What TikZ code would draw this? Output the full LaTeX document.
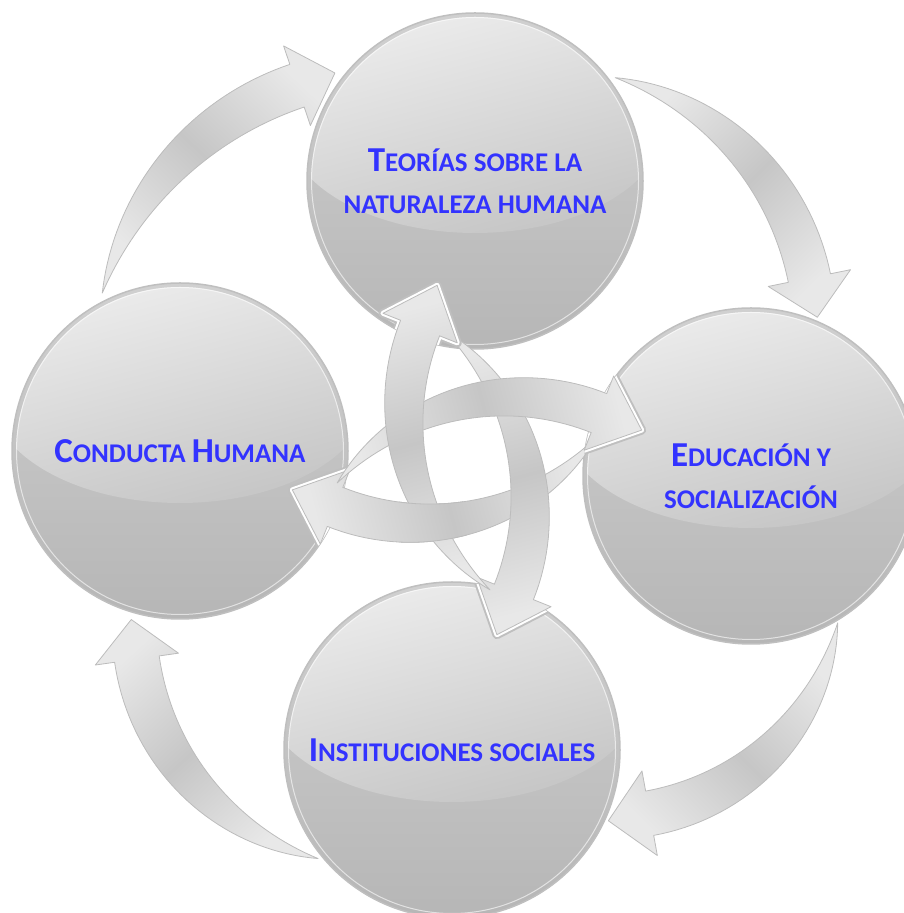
\documentclass[tikz,border=0pt]{standalone}
\usepackage{fontspec}
\setmainfont{Carlito}
\usetikzlibrary{calc}

\definecolor{ballhi}{HTML}{D0D0D0}
\definecolor{balllo}{HTML}{B6B6B6}
\definecolor{glosshi}{HTML}{EDEDED}
\definecolor{glosslo}{HTML}{C5C5C5}
\definecolor{ballrim}{HTML}{BFBFBF}
\definecolor{arrlight}{HTML}{E8E8E8}
\definecolor{arrmid}{HTML}{C6C6C6}
\definecolor{arredge}{HTML}{BCBCBC}
\definecolor{lbl}{HTML}{3333FF}

% fake small caps: big initial, smaller capitals after it
\newcommand{\smc}[2]{{\fontsize{35pt}{42pt}\selectfont #1}{\fontsize{27pt}{42pt}\selectfont #2}}

% tapered bent arrow round a centre: style, centre, tail angle, head angle,
% radius, shaft width, head half width, head length
\newcommand{\arcarrow}[8]{%
  \pgfmathsetmacro{\arrang}{(#3+#4)/2}%
  \path[#1, shading angle=\arrang, shift={#2}]
    plot[variable=\t, domain=#3:#4, samples=40]
      (\t:{#5+#6/2*((#3-\t)/(#3-#4))*(2-(#3-\t)/(#3-#4))})
    -- (#4:{#5+#7})
    -- ({#4-atan(#8/#5)}:{#5/cos(atan(#8/#5))})
    -- (#4:{#5-#7})
    -- plot[variable=\t, domain=#4:#3, samples=40]
      (\t:{#5-#6/2*((#3-\t)/(#3-#4))*(2-(#3-\t)/(#3-#4))})
    -- cycle;}

\tikzset{
  ball/.style={circle, minimum size=336pt, inner sep=0pt, draw=ballrim, line width=1.5pt,
    top color=ballhi, bottom color=balllo, text=lbl, align=center,
    font=\bfseries\fontsize{27pt}{42pt}\selectfont,
    path picture={
      \clip (path picture bounding box.center) circle (164pt);
      \shade[top color=glosshi, bottom color=glosslo, shading angle=15]
        ([yshift=58pt]path picture bounding box.center) ellipse [x radius=190pt, y radius=110pt];
      \draw[white, line width=2pt, opacity=0.6] (path picture bounding box.center) circle (164pt);
    }},
  arrowbody/.style={top color=arrlight, bottom color=arrlight, middle color=arrmid,
    draw=arredge, line width=0.8pt, line join=round},
  notchrim/.style={draw=ballrim, line width=9pt, line join=round},
  notchgap/.style={draw=white, line width=5pt, line join=round},
}

\begin{document}
\begin{tikzpicture}[x=1pt,y=1pt]
  \useasboundingbox (0,0) rectangle (904,913);

  \node[ball] (T) at (475,732) {\smc{T}{EORÍAS SOBRE LA}\\\smc{}{NATURALEZA HUMANA}};
  \node[ball] (L) at (180,462) {\smc{C}{ONDUCTA} \smc{H}{UMANA}};
  \node[ball] (R) at (751,437) {\smc{E}{DUCACIÓN Y}\\\smc{}{SOCIALIZACIÓN}};
  \node[ball] (B) at (452,163) {\smc{I}{NSTITUCIONES SOCIALES}};

  % outer ring
  \coordinate (arcLT) at (393,542);
  \coordinate (arcTR) at (555.6,583.3);
  \coordinate (arcRB) at (608,329);
  \coordinate (arcBL) at (374.5,287.7);
  \arcarrow{arrowbody}{(arcLT)}{165}{108.6}{301}{45}{42}{40}
  \arcarrow{arrowbody}{(arcTR)}{76.7}{11.5}{259}{43}{42}{40}
  \arcarrow{arrowbody}{(arcRB)}{-9.6}{-79.7}{233}{45}{43}{42}
  \arcarrow{arrowbody}{(arcBL)}{-103.6}{-171.9}{240}{45}{42}{40}

  % inner cross
  \coordinate (xUp) at (631,501);
  \coordinate (xRight) at (515,289);
  \coordinate (xDown) at (303,405);
  \coordinate (xLeft) at (419,617);

  \begin{scope}
    \clip (L) circle (168pt);
    \arcarrow{notchrim}{(xLeft)}{-38.4}{-111.7}{227}{42}{40}{46}
    \arcarrow{notchgap}{(xLeft)}{-38.4}{-111.7}{227}{42}{40}{46}
  \end{scope}
  \arcarrow{arrowbody}{(xLeft)}{-38.4}{-111.7}{227}{42}{40}{46}

  \begin{scope}
    \clip (B) circle (168pt);
    \arcarrow{notchrim}{(xDown)}{51.6}{-21.7}{227}{42}{40}{46}
    \arcarrow{notchgap}{(xDown)}{51.6}{-21.7}{227}{42}{40}{46}
  \end{scope}
  \arcarrow{arrowbody}{(xDown)}{51.6}{-21.7}{227}{42}{40}{46}

  \begin{scope}
    \clip (R) circle (168pt);
    \arcarrow{notchrim}{(xRight)}{141.6}{68.3}{227}{42}{40}{46}
    \arcarrow{notchgap}{(xRight)}{141.6}{68.3}{227}{42}{40}{46}
  \end{scope}
  \arcarrow{arrowbody}{(xRight)}{141.6}{68.3}{227}{42}{40}{46}

  \begin{scope}
    \clip (T) circle (168pt);
    \arcarrow{notchrim}{(xUp)}{231.6}{158.3}{227}{42}{40}{46}
    \arcarrow{notchgap}{(xUp)}{231.6}{158.3}{227}{42}{40}{46}
  \end{scope}
  \arcarrow{arrowbody}{(xUp)}{231.6}{158.3}{227}{42}{40}{46}

  % left arrow passes over the up arrow
  \begin{scope}
    \clip (431,391) circle (38pt);
    \arcarrow{arrowbody}{(xLeft)}{-38.4}{-111.7}{227}{42}{40}{46}
  \end{scope}
\end{tikzpicture}
\end{document}
